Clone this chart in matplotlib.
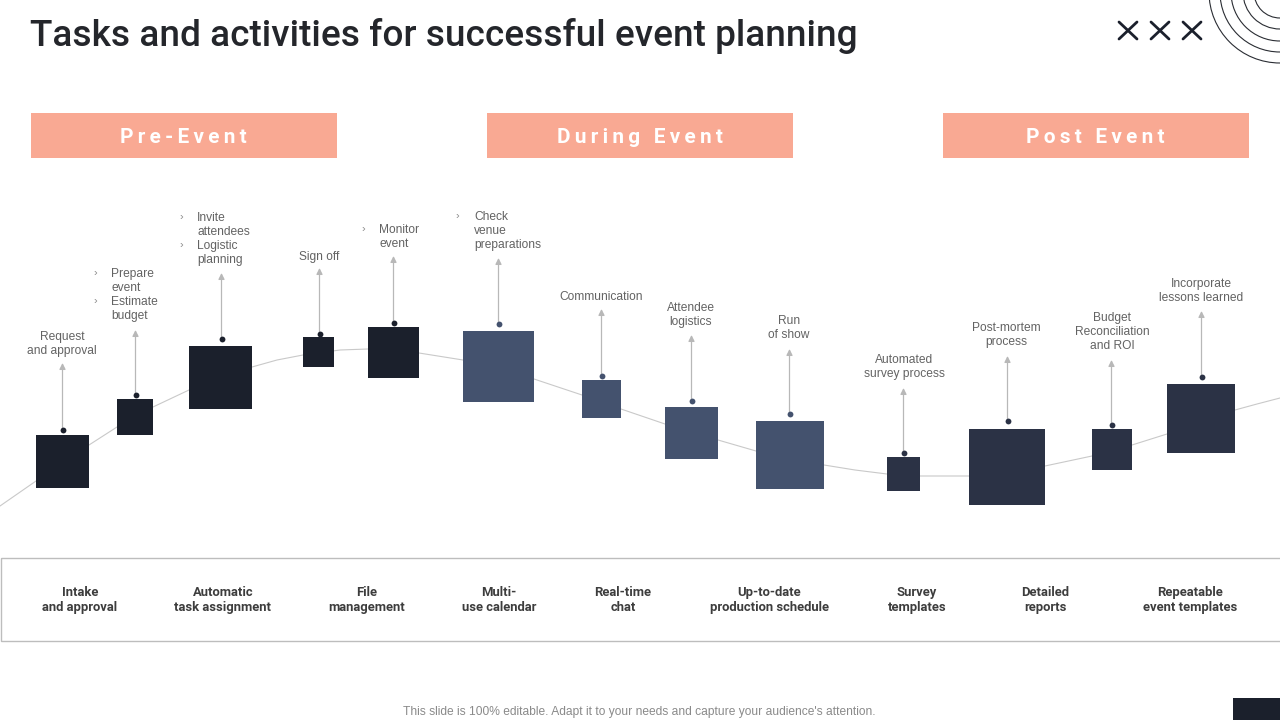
"""Event planning slide: stepped boxes on a curve with callouts, redrawn in pixel coords."""
import matplotlib
matplotlib.use("Agg")
import matplotlib.pyplot as plt
from matplotlib.patches import Rectangle, Circle

W, H = 1280, 720
DARK, MID, NAVY = "#1b202c", "#44526e", "#2b3245"
SALMON = "#f9a993"
GREY = "#636363"

title = "Tasks and activities for successful event planning"
phases = ["Pre-Event", "During Event", "Post Event"]
phase_left = [31, 487, 943]

curve_x = [0, 36, 89, 117, 153, 189, 252, 277, 303, 340, 368, 419, 463, 534, 582, 621, 665,
           718, 756, 824, 855, 887, 920, 969, 1045, 1092, 1132, 1167, 1235, 1257, 1280]
curve_y = [506, 481, 445, 427, 407, 390, 367, 360, 355, 350, 349, 353, 360, 379, 395, 409, 424,
           440, 451, 465, 470, 474, 476, 476, 466, 456, 445, 434, 410, 404, 398]

box_left = [36, 117, 189, 303, 368, 463, 582, 665, 756, 887, 969, 1092, 1167]
box_right = [89, 153, 252, 334, 419, 534, 621, 718, 824, 920, 1045, 1132, 1235]
box_top = [435, 399, 346, 337, 327, 331, 380, 407, 421, 457, 429, 429, 384]
box_bottom = [488, 435, 409, 367, 378, 402, 418, 459, 489, 491, 505, 470, 453]
box_color = [DARK] * 5 + [MID] * 4 + [NAVY] * 4
arrow_x = [62.5, 135.5, 221.5, 319.5, 393.5, 498.5, 601.5, 691.5, 789.5, 903.5, 1007.5, 1111.5, 1201.5]
dot_y = [430, 395, 339, 334, 323, 324, 376, 401, 414, 453, 421, 425, 377]
tip_y = [363, 330, 273, 268, 256, 258, 309, 335, 349, 388, 356, 360, 311]

# centred callouts: text, x, y of block centre
callouts = ["Request\nand approval", "Sign off", "Communication", "Attendee\nlogistics", "Run\nof show",
            "Automated\nsurvey process", "Post-mortem\nprocess", "Budget\nReconciliation\nand ROI",
            "Incorporate\nlessons learned"]
callout_x = [62, 319, 601, 691, 789, 904, 1006, 1112, 1201]
callout_y = [344, 257, 297, 315, 328, 367, 335, 332, 291]

# bulleted callouts: text, left of text, y of first line centre
bullets = [["Prepare\nevent", "Estimate\nbudget"], ["Invite\nattendees", "Logistic\nplanning"],
           ["Monitor\nevent"], ["Check\nvenue\npreparations"]]
bullet_x = [111, 197, 379, 474]
bullet_y = [274, 218, 230, 217]

features = ["Intake\nand approval", "Automatic\ntask assignment", "File\nmanagement", "Multi-\nuse calendar",
            "Real-time\nchat", "Up-to-date\nproduction schedule", "Survey\ntemplates", "Detailed\nreports",
            "Repeatable\nevent templates"]
feature_x = [80, 223, 367, 499, 623, 769, 917, 1045, 1190]

footer = "This slide is 100% editable. Adapt it to your needs and capture your audience's attention."
ring_radii = [71, 60, 49, 37, 26]
cross_x = [1128, 1160, 1192]


def px(size):
    return size * 72 / 100


fig = plt.figure(figsize=(12.8, 7.2), dpi=100)
ax = fig.add_axes([0, 0, 1, 1])
ax.set_xlim(0, W)
ax.set_ylim(H, 0)
ax.axis("off")

ax.text(30, 36, title, fontsize=px(37), family="Roboto", weight="medium", color="#24262b", va="center")

for c in cross_x:
    ax.plot([c - 9, c + 9], [22, 39], color=DARK, lw=2, solid_capstyle="round")
    ax.plot([c - 9, c + 9], [39, 22], color=DARK, lw=2, solid_capstyle="round")
for r in ring_radii:
    ax.add_patch(Circle((1280, -8), r, fill=False, ec="#2a2d33", lw=0.8))

for left, name in zip(phase_left, phases):
    ax.add_patch(Rectangle((left, 113), 306, 45, fc=SALMON, ec="none"))
    ax.text(left + 152.5, 137.5, "\u2009".join(name), fontsize=px(20.8), family="Roboto", weight="bold",
            color="white", ha="center", va="center")

ax.plot(curve_x, curve_y, color="#c9c9c9", lw=0.8, zorder=1)

for i in range(len(box_left)):
    ax.add_patch(Rectangle((box_left[i], box_top[i]), box_right[i] - box_left[i], box_bottom[i] - box_top[i],
                           fc=box_color[i], ec="none", zorder=2))
    ax.annotate("", xy=(arrow_x[i], tip_y[i]), xytext=(arrow_x[i], dot_y[i]),
                arrowprops=dict(arrowstyle="-|>", color="#b8b8b8", lw=0.9, mutation_scale=9, shrinkA=0, shrinkB=0))
    ax.plot(arrow_x[i], dot_y[i], "o", ms=4.2, color=box_color[i], mec="none", zorder=3)

for t, x, y in zip(callouts, callout_x, callout_y):
    ax.text(x, y, t, fontsize=px(12), family="Liberation Sans", color=GREY, ha="center", va="center", linespacing=1.2)

for items, x, y in zip(bullets, bullet_x, bullet_y):
    for item in items:
        ax.text(x, y - 6, item, fontsize=px(12), family="Liberation Sans", color=GREY, ha="left", va="top",
                linespacing=1.2)
        ax.text(x - 18, y - 6, "\u203a", fontsize=px(11), family="Liberation Sans", color="#8a8a8a", ha="left", va="top")
        y += 14.1 * (item.count("\n") + 1)

ax.add_patch(Rectangle((0.5, 558), W + 10, 83, fc="none", ec="#bdbdbd", lw=1, zorder=1))
for t, x in zip(features, feature_x):
    ax.text(x, 600, t, fontsize=px(13), family="Roboto", weight="bold", color="#3d3d3d",
            ha="center", va="center", linespacing=1.27)

ax.text(639, 712.5, footer, fontsize=px(12), family="Liberation Sans", color="#8a8a8a", ha="center", va="center")
ax.add_patch(Rectangle((1233, 698), 47, 22, fc=DARK, ec="none"))

fig.savefig("out.png", dpi=100)
